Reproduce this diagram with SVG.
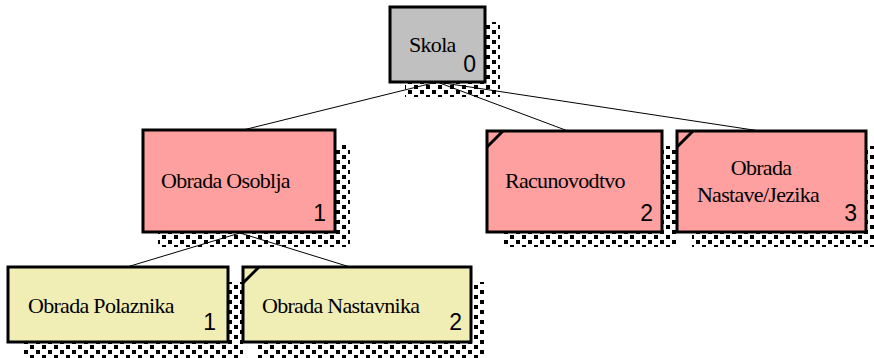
<svg xmlns="http://www.w3.org/2000/svg" width="874" height="358" viewBox="0 0 874 358">
<defs>
<pattern id="dots" patternUnits="userSpaceOnUse" width="12" height="10">
<rect x="0" y="0" width="4" height="4" fill="#000"/>
<rect x="6" y="5" width="4" height="4" fill="#000"/>
</pattern>
</defs>
<style>
.box{stroke:#000;stroke-width:3}
.sh{fill:url(#dots)}
.gray{fill:#C0C0C0}
.pink{fill:#FFA0A0}
.yel{fill:#F0EEB4}
.lbl{font-family:"Liberation Serif","Times New Roman",serif;font-size:22px;letter-spacing:-0.7px;fill:#000}
.num{font-family:"Liberation Sans",Arial,sans-serif;font-size:23px;fill:#000;text-anchor:end}
.con{stroke:#000;stroke-width:1;fill:none}
.cut{stroke:#000;stroke-width:3;fill:none}
</style>
<rect width="874" height="358" fill="#fff"/>
<g id="shadows">
<rect class="sh" x="405" y="22" width="95" height="75"/>
<rect class="sh" x="158" y="145" width="192" height="102"/>
<rect class="sh" x="502" y="146" width="175" height="101"/>
<rect class="sh" x="692" y="146" width="189" height="101"/>
<rect class="sh" x="23" y="282" width="220" height="76"/>
<rect class="sh" x="258" y="282" width="228" height="76"/>
</g>
<g id="connectors">
<line class="con" x1="437" y1="82" x2="243" y2="130"/>
<line class="con" x1="437" y1="82" x2="568" y2="131"/>
<line class="con" x1="437" y1="82" x2="760" y2="131"/>
<line class="con" x1="240" y1="233" x2="127" y2="267"/>
<line class="con" x1="240" y1="233" x2="350" y2="267"/>
</g>
<g id="node-skola">
<rect class="box gray" x="390" y="7" width="95" height="75"/>
<text class="lbl" x="409" y="52">Skola</text>
<text class="num" x="476" y="72">0</text>
</g>
<g id="node-osoblja">
<rect class="box pink" x="143" y="130" width="192" height="102"/>
<text class="lbl" x="161" y="188">Obrada Osoblja</text>
<text class="num" x="326" y="221">1</text>
</g>
<g id="node-racunovodtvo">
<rect class="box pink" x="487" y="131" width="175" height="101"/>
<path class="cut" d="M487 147 L503 131"/>
<text class="lbl" x="505" y="188">Racunovodtvo</text>
<text class="num" x="653" y="221">2</text>
</g>
<g id="node-nastave">
<rect class="box pink" x="677" y="131" width="189" height="101"/>
<path class="cut" d="M677 147 L693 131"/>
<text class="lbl" x="761" y="175" text-anchor="middle">Obrada</text>
<text class="lbl" x="758" y="202" text-anchor="middle">Nastave/Jezika</text>
<text class="num" x="857" y="221">3</text>
</g>
<g id="node-polaznika">
<rect class="box yel" x="8" y="267" width="220" height="75"/>
<text class="lbl" x="28" y="313">Obrada Polaznika</text>
<text class="num" x="216" y="330">1</text>
</g>
<g id="node-nastavnika">
<rect class="box yel" x="243" y="267" width="228" height="75"/>
<path class="cut" d="M243 283 L259 267"/>
<text class="lbl" x="262" y="313">Obrada Nastavnika</text>
<text class="num" x="462" y="330">2</text>
</g>
</svg>
